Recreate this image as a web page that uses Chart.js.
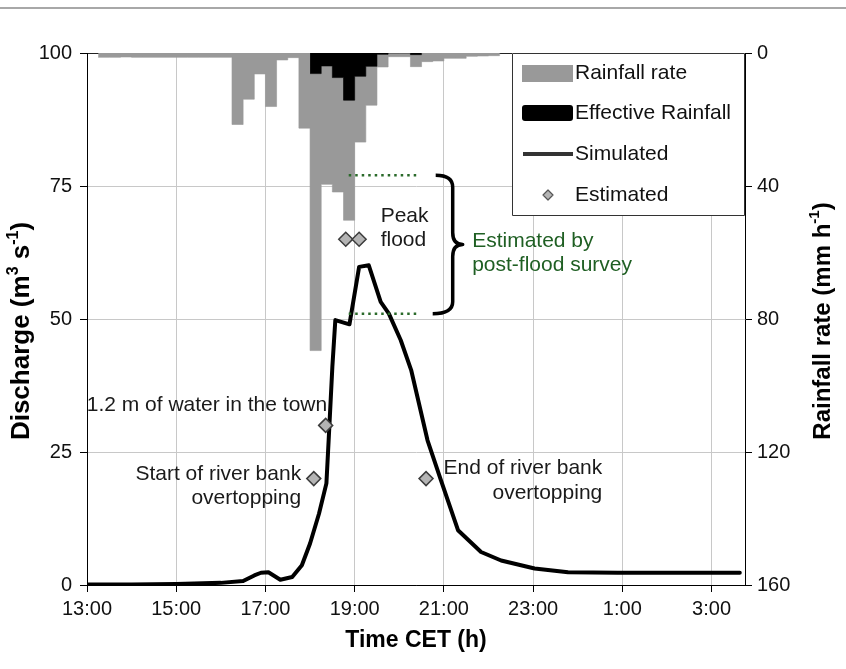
<!DOCTYPE html>
<html>
<head>
<meta charset="utf-8">
<script src="https://cdn.jsdelivr.net/npm/chart.js@4.4.1/dist/chart.umd.min.js"></script>
<style>
  html, body { margin: 0; padding: 0; background: #fff; }
  #wrap { width: 846px; height: 669px; position: relative; }
</style>
</head>
<body>
<div id="wrap"><canvas id="flood"></canvas></div>
<script>
// x axis ticks (hours run past midnight into the next day)
const tickLabels = ['13:00', '15:00', '17:00', '19:00', '21:00', '23:00', '1:00', '3:00'];

// 15 minute rainfall bins, start time of each bin, mm/h
const rainTimes = ['13:15', '13:30', '13:45', '14:00', '14:15', '14:30', '14:45', '15:00', '15:15', '15:30', '15:45', '16:00',
                   '16:15', '16:30', '16:45', '17:00', '17:15', '17:30', '17:45', '18:00', '18:15', '18:30', '18:45', '19:00',
                   '19:15', '19:30', '19:45', '20:00', '20:15', '20:30', '20:45', '21:00', '21:15', '21:30', '21:45', '22:00'];
const rainRate = [1.3, 1.3, 1.2, 1.3, 1.3, 1.3, 1.3, 1.3, 1.3, 1.3, 1.3, 1.3,
                  21.5, 13.9, 6.3, 16.1, 2.1, 1.4, 22.6, 89.5, 39.5, 41.8, 50.3, 26.8,
                  15.7, 4.2, 1.1, 1.1, 4.1, 2.6, 2.4, 1.6, 1.6, 1.0, 0.9, 0.8];

const effTimes = ['18:00', '18:15', '18:30', '18:45', '19:00', '19:15', '19:30', '19:45', '20:00', '20:15'];
const effRate = [6.2, 3.9, 7.4, 14.2, 7.0, 4.0, 0.4, 0, 0, 0.5];

// simulated discharge, m3/s
const simTimes = ['13:00', '14:00', '15:00', '16:00', '16:30', '16:45', '16:54', '17:04', '17:20', '17:36', '17:49',
                  '18:00', '18:12', '18:22', '18:25', '18:30', '18:34', '18:53', '19:06', '19:19', '19:35', '19:46',
                  '20:02', '20:16', '20:38', '20:56', '21:19', '21:50', '22:17', '23:02', '23:47', '0:54', '3:38'];
const simQ = [0.1, 0.1, 0.2, 0.4, 0.75, 1.8, 2.3, 2.4, 1.0, 1.5, 3.7,
              7.8, 13.4, 19.1, 27.2, 41.0, 49.8, 49.0, 59.8, 60.1, 53.2, 51.0,
              46.0, 40.4, 27.2, 19.7, 10.3, 6.2, 4.6, 3.1, 2.4, 2.3, 2.3];

// estimated discharge from witnesses / survey
const estTimes = ['18:05', '18:21', '18:48', '19:06', '20:36'];
const estQ = [20, 30, 65, 65, 20];

// post-flood survey range
const surveyQ = [51, 77];
const surveyFrom = '18:52', surveyTo = '20:27', braceAt = '20:49';

const legendLabels = ['Rainfall rate', 'Effective Rainfall', 'Simulated', 'Estimated'];

const BIN = 0.25; // rainfall bin length, hours

function toHours(s) {
    const [h, m] = s.split(':').map(Number);
    let v = h + m / 60;
    if (v < 13) v += 24;
    return v;
}
// step points for a binned series: each bin holds its value, closed at the end of the last bin
function binSteps(times, rates) {
    const pts = times.map((t, i) => ({ x: toHours(t), y: rates[i] }));
    pts.push({ x: toHours(times[times.length - 1]) + BIN, y: 0 });
    return pts;
}
const tickHours = tickLabels.map(toHours);
const FONT = '"Liberation Sans", Arial, sans-serif';

const notes = [
    { text: '1.2 m of water in the town', t: '18:23', q: 33.8, align: 'right' },
    { text: 'Start of river bank', t: '17:48', q: 20.8, align: 'right' },
    { text: 'overtopping', t: '17:48', q: 16.4, align: 'right' },
    { text: 'End of river bank', t: '0:33', q: 21.9, align: 'right' },
    { text: 'overtopping', t: '0:33', q: 17.3, align: 'right' },
    { text: 'Peak', t: '19:35', q: 69.3, align: 'left' },
    { text: 'flood', t: '19:35', q: 64.8, align: 'left' },
    { text: 'Estimated by', t: '21:38', q: 64.6, align: 'left', green: true },
    { text: 'post-flood survey', t: '21:38', q: 60.1, align: 'left', green: true }
];

function richText(ctx, parts, cx, cy, angle, size) {
    const big = 'bold ' + size + 'px ' + FONT, small = 'bold ' + Math.round(size * 0.62) + 'px ' + FONT;
    let total = 0;
    parts.forEach(p => {
        ctx.font = p.sup ? small : big;
        p.w = ctx.measureText(p.t).width;
        total += p.w;
    });
    ctx.save();
    ctx.translate(cx, cy);
    ctx.rotate(angle);
    ctx.fillStyle = '#000';
    ctx.textBaseline = 'middle';
    ctx.textAlign = 'left';
    let xx = -total / 2;
    parts.forEach(p => {
        ctx.font = p.sup ? small : big;
        ctx.fillText(p.t, xx, p.sup ? -size * 0.33 : 0);
        xx += p.w;
    });
    ctx.restore();
}

const overlay = {
    id: 'overlay',
    beforeDraw(chart) {
        const ctx = chart.ctx;
        ctx.save();
        ctx.fillStyle = '#fff';
        ctx.fillRect(0, 0, chart.width, chart.height);
        ctx.strokeStyle = '#a8a8a8';
        ctx.lineWidth = 2;
        ctx.beginPath();
        ctx.moveTo(0, 8);
        ctx.lineTo(chart.width, 8);
        ctx.stroke();
        ctx.restore();
    },
    afterDraw(chart) {
        const { ctx, chartArea: area, scales: { x, y } } = chart;
        const px = t => x.getPixelForValue(toHours(t));
        const py = q => y.getPixelForValue(q);
        ctx.save();

        // dotted survey limits
        ctx.strokeStyle = '#2a6a2a';
        ctx.lineWidth = 2.5;
        ctx.setLineDash([2.5, 4]);
        surveyQ.forEach(q => {
            ctx.beginPath();
            ctx.moveTo(px(surveyFrom), py(q));
            ctx.lineTo(px(surveyTo), py(q));
            ctx.stroke();
        });
        ctx.setLineDash([]);

        // curly brace
        const x0 = px(braceAt), x1 = x0 + 17, x2 = x0 + 27;
        const yT = py(surveyQ[1]), yB = py(surveyQ[0]), yM = (yT + yB) / 2, r = 12;
        ctx.strokeStyle = '#000';
        ctx.lineWidth = 3.5;
        ctx.lineJoin = 'round';
        ctx.beginPath();
        ctx.moveTo(x0, yT);
        ctx.quadraticCurveTo(x1, yT, x1, yT + r);
        ctx.lineTo(x1, yM - r);
        ctx.quadraticCurveTo(x1, yM, x2, yM);
        ctx.quadraticCurveTo(x1, yM, x1, yM + r);
        ctx.lineTo(x1, yB - r);
        ctx.quadraticCurveTo(x1, yB, x0 - 3, yB);
        ctx.stroke();

        // annotations
        ctx.font = '21px ' + FONT;
        ctx.textBaseline = 'middle';
        notes.forEach(n => {
            ctx.fillStyle = n.green ? '#1f5f23' : '#1a1a1a';
            ctx.textAlign = n.align;
            ctx.fillText(n.text, px(n.t), py(n.q));
        });

        // legend
        const lx = 512, ly = 53, lw = area.right - lx, lh = 163;
        ctx.fillStyle = '#fff';
        ctx.fillRect(lx, ly, lw, lh);
        ctx.strokeStyle = '#333';
        ctx.lineWidth = 1;
        ctx.strokeRect(lx + 0.5, ly + 0.5, lw - 1, lh - 1);
        const rows = [73, 113, 154, 195];
        ctx.fillStyle = '#999';
        ctx.fillRect(522, rows[0] - 8, 51, 17);
        ctx.fillStyle = '#000';
        ctx.beginPath();
        ctx.roundRect(522, rows[1] - 8, 51, 16, 3);
        ctx.fill();
        ctx.lineWidth = 4;
        ctx.beginPath();
        ctx.moveTo(523, rows[2]);
        ctx.lineTo(573, rows[2]);
        ctx.stroke();
        ctx.beginPath();
        ctx.moveTo(548, rows[3] - 5);
        ctx.lineTo(553, rows[3]);
        ctx.lineTo(548, rows[3] + 5);
        ctx.lineTo(543, rows[3]);
        ctx.closePath();
        ctx.fillStyle = '#b4b4b4';
        ctx.fill();
        ctx.strokeStyle = '#555';
        ctx.lineWidth = 1.2;
        ctx.stroke();
        ctx.fillStyle = '#111';
        ctx.font = '21px ' + FONT;
        ctx.textAlign = 'left';
        legendLabels.forEach((s, i) => ctx.fillText(s, 575, rows[i]));
        ctx.restore();

        // axis titles
        const midY = (area.top + area.bottom) / 2;
        richText(ctx, [{ t: 'Discharge (m' }, { t: '3', sup: true }, { t: ' s' }, { t: '-1', sup: true }, { t: ')' }],
                 22, midY + 12, -Math.PI / 2, 26);
        richText(ctx, [{ t: 'Rainfall rate (mm h' }, { t: '-1', sup: true }, { t: ')' }],
                 823, midY + 2, -Math.PI / 2, 24);
        richText(ctx, [{ t: 'Time CET (h)' }], (area.left + area.right) / 2, 641, 0, 23);
    }
};

const tickFont = { family: FONT, size: 20 };

new Chart(document.getElementById('flood'), {
    type: 'line',
    data: {
        datasets: [
            {
                label: legendLabels[0],
                data: binSteps(rainTimes, rainRate),
                stepped: 'before',
                fill: 'origin',
                backgroundColor: '#999999',
                borderColor: '#999999',
                borderWidth: 0.6,
                pointRadius: 0,
                yAxisID: 'y2',
                order: 4
            },
            {
                label: legendLabels[1],
                data: binSteps(effTimes, effRate),
                stepped: 'before',
                fill: 'origin',
                backgroundColor: '#000000',
                borderColor: '#000000',
                borderWidth: 0.6,
                pointRadius: 0,
                yAxisID: 'y2',
                order: 3
            },
            {
                label: legendLabels[2],
                data: simTimes.map((t, i) => ({ x: toHours(t), y: simQ[i] })),
                borderColor: '#000',
                borderWidth: 4,
                borderJoinStyle: 'round',
                borderCapStyle: 'round',
                pointRadius: 0,
                tension: 0,
                fill: false,
                yAxisID: 'y',
                order: 2
            },
            {
                label: legendLabels[3],
                data: estTimes.map((t, i) => ({ x: toHours(t), y: estQ[i] })),
                showLine: false,
                pointStyle: 'rectRot',
                pointRadius: 7,
                pointBackgroundColor: '#b4b4b4',
                pointBorderColor: '#3c3c3c',
                pointBorderWidth: 1.5,
                yAxisID: 'y',
                order: 1
            }
        ]
    },
    options: {
        responsive: true,
        maintainAspectRatio: false,
        animation: false,
        layout: { padding: { top: 53, left: 0, right: 0, bottom: 0 } },
        plugins: { legend: { display: false }, tooltip: { enabled: false } },
        scales: {
            x: {
                type: 'linear',
                min: 13,
                max: 27.75,
                afterBuildTicks: s => { s.ticks = tickHours.map(v => ({ value: v })); },
                afterFit: s => { s.height = 84; },
                ticks: {
                    callback: (v, i) => tickLabels[i],
                    font: tickFont, color: '#111', padding: 5, autoSkip: false, maxRotation: 0
                },
                grid: {
                    color: c => (c.tick && c.tick.value === 13) ? '#000' : '#c8c8c8',
                    tickColor: '#000', tickLength: 7
                },
                border: { color: '#000', width: 1 }
            },
            y: {
                position: 'left',
                min: 0,
                max: 100,
                afterFit: s => { s.width = 87; },
                ticks: { stepSize: 25, font: tickFont, color: '#111', padding: 8 },
                grid: {
                    color: c => (c.tick && (c.tick.value === 0 || c.tick.value === 100)) ? '#222' : '#c8c8c8',
                    tickColor: '#000', tickLength: 7
                },
                border: { color: '#000', width: 1 }
            },
            y2: {
                position: 'right',
                min: 0,
                max: 160,
                reverse: true,
                afterFit: s => { s.width = 101; },
                ticks: { stepSize: 40, font: tickFont, color: '#111', padding: 5 },
                grid: { drawOnChartArea: false, tickColor: '#000', tickLength: 7 },
                border: { color: '#000', width: 1 }
            }
        }
    },
    plugins: [overlay]
});
</script>
</body>
</html>
